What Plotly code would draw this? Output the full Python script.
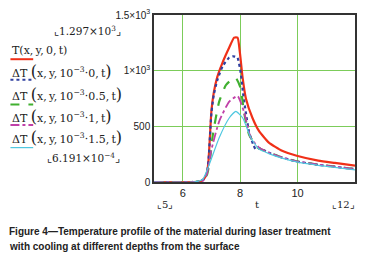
import plotly.graph_objects as go

# ---- data ----
t_T = [5, 6.3, 6.6, 6.75, 6.85, 6.9, 6.95, 7.0, 7.08, 7.2, 7.39, 7.62, 7.79, 7.91, 7.99, 8.09, 8.2, 8.43, 8.66, 9.0, 9.46, 9.97, 10.72, 11.3, 12]
y_T = [0, 0, 5, 30, 90, 200, 420, 640, 800, 940, 1075, 1208, 1297, 1297, 1164, 928, 751, 575, 457, 354, 280, 236, 192, 171, 147]

t_d0 = [5, 6.3, 6.6, 6.75, 6.85, 6.9, 6.95, 7.0, 7.08, 7.2, 7.39, 7.62, 7.75, 7.9, 8.02, 8.1, 8.2, 8.31, 8.45, 8.55, 8.66, 9.0, 9.46, 9.97, 10.72, 11.3, 12]
y_d0 = [0, 0, 5, 30, 90, 200, 410, 620, 780, 910, 1040, 1118, 1129, 1120, 980, 800, 620, 450, 340, 290, 305, 262, 220, 184, 154, 136, 116]

t_d05 = [5, 6.4, 6.7, 6.85, 6.95, 7.05, 7.27, 7.5, 7.7, 7.85, 8.02, 8.13, 8.31, 8.6, 9.0, 9.46, 9.97, 10.72, 11.3, 12]
y_d05 = [0, 0, 12, 70, 200, 427, 722, 869, 920, 934, 840, 634, 427, 312, 265, 221, 186, 156, 138, 115]

t_d1 = [5, 6.4, 6.7, 6.85, 6.99, 7.27, 7.62, 7.91, 8.13, 8.37, 8.66, 9.0, 9.46, 9.97, 10.72, 11.3, 12]
y_d1 = [0, 0, 10, 80, 280, 545, 722, 772, 634, 398, 309, 265, 221, 186, 156, 138, 115]

t_d15 = [5, 6.4, 6.7, 6.93, 7.27, 7.62, 7.85, 8.09, 8.37, 8.66, 9.0, 9.46, 9.97, 10.72, 11.3, 12]
y_d15 = [0, 0, 25, 162, 398, 575, 634, 575, 398, 295, 255, 214, 180, 150, 132, 109]

x_ticks = [6, 8, 10]
y_ticks = [0, 500, 1000, 1500]
y_ticktext = ["0", "500", "1×10<sup>3</sup>", "1.5×10<sup>3</sup>"]

series = [
    (t_T, y_T, "#f03018", 2.2, "solid"),
    (t_d0, y_d0, "#3040a0", 2.2, "dot"),
    (t_d05, y_d05, "#40b030", 2.2, "dash"),
    (t_d1, y_d1, "#c040a8", 1.8, "dashdot"),
    (t_d15, y_d15, "#50c8e0", 1.2, "solid"),
]

fig = go.Figure()
for xs, ys, col, w, dash in series:
    fig.add_trace(go.Scatter(x=xs, y=ys, mode="lines",
                             line=dict(color=col, width=w, dash=dash, shape="spline", smoothing=0.5),
                             showlegend=False, hoverinfo="skip"))

W, H = 365, 265
L, R, T, B = 154, 8, 12, 83
PW, PH = W - L - R, H - T - B

def px(x):
    return (x - L) / PW

def py(y):
    return (H - B - y) / PH

serif = "DejaVu Serif"
sans = "Liberation Sans"
ann = []

def text(x, y, s, size=11, fam=serif, anchor="left", color="#222"):
    ann.append(dict(x=px(x), y=py(y), xref="paper", yref="paper", text=s, showarrow=False,
                    xanchor=anchor, yanchor="middle", align="left",
                    font=dict(family=fam, size=size, color=color)))

sp = "\u2009"
big = lambda c: "<span style='font-size:16px'>" + c + "</span>"
labels = [
    "T(x," + sp + "y," + sp + "0," + sp + "t)",
    "ΔT " + big("(") + "x," + sp + "y," + sp + "10<sup>−3</sup>·0," + sp + "t" + big(")"),
    "ΔT " + big("(") + "x," + sp + "y," + sp + "10<sup>−3</sup>·0.5," + sp + "t" + big(")"),
    "ΔT " + big("(") + "x," + sp + "y," + sp + "10<sup>−3</sup>·1," + sp + "t" + big(")"),
    "ΔT " + big("(") + "x," + sp + "y," + sp + "10<sup>−3</sup>·1.5," + sp + "t" + big(")"),
]
label_y = [48, 70, 93, 115, 137]
sample_y = [57, 78, 103, 124, 147]

shapes = []
for (xs, ys, col, w, dash), s, ly, sy in zip(series, labels, label_y, sample_y):
    text(9, ly, s, size=11)
    shapes.append(dict(type="line", xref="paper", yref="paper", x0=px(9), x1=px(32), y0=py(sy), y1=py(sy),
                       line=dict(color=col, width=min(w, 2), dash=dash)))

text(51, 28, "⌞1.297×10<sup>3</sup>⌟", size=10.5)
text(44, 157, "⌞6.191×10<sup>−4</sup>⌟", size=10.5)
text(155, 205, "⌞5⌟", size=10)
text(258, 205, "t", size=10, anchor="center")
text(359, 205, "⌞12⌟", size=10, anchor="right")

cap_font = "Liberation Sans, Arial"
ann.append(dict(x=px(6), y=py(232), xref="paper", yref="paper", showarrow=False, xanchor="left", yanchor="middle",
                text="<b>Figure 4—Temperature profile of the material during laser treatment</b>",
                font=dict(family=cap_font, size=10, color="#222")))
ann.append(dict(x=px(6), y=py(248), xref="paper", yref="paper", showarrow=False, xanchor="left", yanchor="middle",
                text="<b>with cooling at different depths from the surface</b>",
                font=dict(family=cap_font, size=10, color="#222")))

grid = "#7ccc5a"
fig.update_layout(
    width=W, height=H, margin=dict(l=L, r=R, t=T, b=B),
    paper_bgcolor="white", plot_bgcolor="white",
    annotations=ann, shapes=shapes,
    xaxis=dict(range=[5, 12], tickvals=x_ticks, showgrid=True, gridcolor=grid, gridwidth=1.3,
               showline=True, linecolor="#333", linewidth=1.5, mirror=True, zeroline=False,
               ticks="", tickfont=dict(family=sans, size=11, color="#222")),
    yaxis=dict(range=[0, 1500], tickvals=y_ticks, ticktext=y_ticktext, showgrid=True, gridcolor=grid, gridwidth=1.3,
               showline=True, linecolor="#333", linewidth=1.5, mirror=True, zeroline=False,
               ticks="", tickfont=dict(family=sans, size=10, color="#222")),
)

fig.write_html("out.html", config={"displayModeBar": False},
               post_script="document.body.style.margin='0';document.body.style.overflow='hidden';")
